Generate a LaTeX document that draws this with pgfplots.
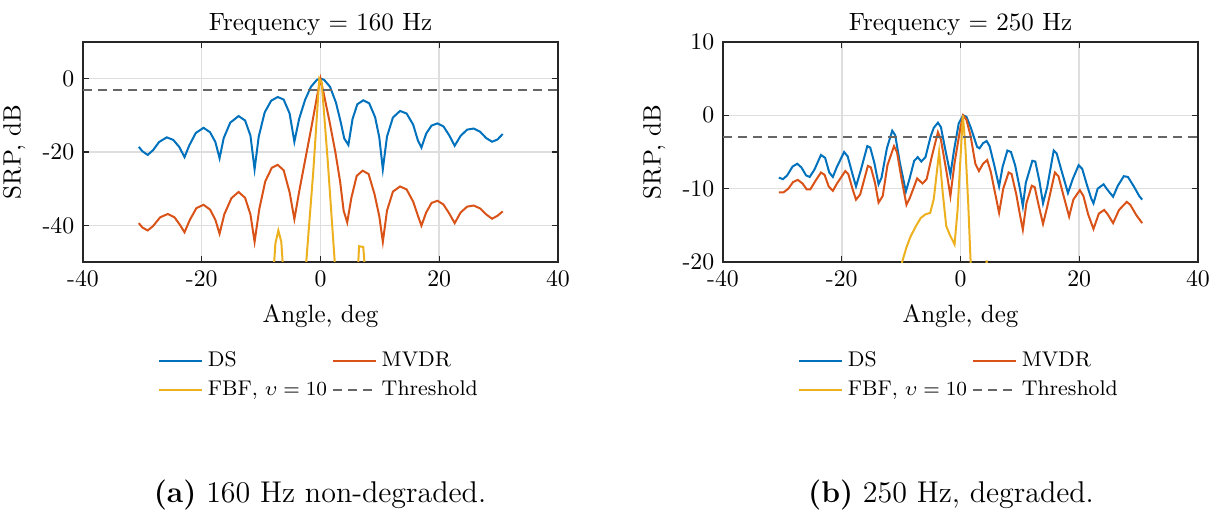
\documentclass[border=0pt]{standalone}
\usepackage{pgfplots}
\pgfplotsset{compat=1.18}
\definecolor{c1}{rgb}{0,0.447,0.741}
\definecolor{c2}{rgb}{0.850,0.325,0.098}
\definecolor{c3}{rgb}{0.929,0.694,0.125}
\definecolor{thr}{rgb}{0.4,0.4,0.4}
\pgfplotsset{
 myax/.style={
  scale only axis, width=190pt, height=88pt,
  xmin=-40, xmax=40, xtick={-40,-20,0,20,40}, xticklabels={-40,-20,0,20,40},
  grid=major, major grid style={black!13, line width=0.6pt},
  axis line style={black!85, line width=0.6pt},
  major tick length=2.5pt, tick style={black!85,line width=0.5pt},
  tick label style={font=\fontsize{9.5}{11}\selectfont},
  label style={font=\fontsize{10}{12}\selectfont},
  xlabel={Angle, deg}, ylabel={SRP, dB},
  legend style={draw=none, fill=none, at={(0.5,-0.36)}, anchor=north, legend columns=2,
    font=\fontsize{8.5}{10}\selectfont,
    /tikz/every even column/.append style={column sep=0pt}},
  legend cell align=left,
  every axis plot/.append style={line width=0.8pt},
 }
}
\begin{document}
\begin{tikzpicture}
\path[use as bounding box] (0,0) rectangle (486.8pt,206pt);
\begin{axis}[myax, name=L, at={(33.2pt,101.2pt)}, anchor=south west,
  ymin=-50, ymax=10, ytick={-40,-20,0}, yticklabels={-40,-20,0}]
\addplot[c1] coordinates {(-30.6,-18.6) (-30,-19.8) (-29.1,-20.8) (-28.2,-19.5) (-27.2,-17.3) (-25.9,-16.0) (-24.8,-16.7) (-23.8,-18.6) (-22.9,-21.4) (-22.1,-18.2) (-21,-14.8) (-19.7,-13.4) (-18.6,-14.6) (-17.7,-17.3) (-17.0,-21.7) (-16.3,-16.2) (-15.2,-12.0) (-13.8,-10.2) (-12.7,-11.4) (-11.8,-15.5) (-11.1,-24.7) (-10.4,-15.8) (-9.4,-9.2) (-8.3,-6.0) (-7.2,-5.0) (-6.2,-5.7) (-5.2,-9.5) (-4.4,-17.2) (-3.6,-11.0) (-2.6,-5.8) (-1.6,-2.2) (-0.6,-0.3) (0,0) (0.6,-0.3) (1.6,-2.2) (2.6,-6.5) (3.4,-11.8) (4.0,-16.3) (4.7,-18.1) (5.4,-11.0) (6.2,-7.0) (7.2,-5.9) (8.2,-6.7) (9.2,-10.5) (9.9,-16.0) (10.5,-24.7) (11.2,-15.8) (12.2,-10.6) (13.4,-8.8) (14.5,-9.5) (15.6,-12.5) (16.4,-16.8) (17.0,-18.8) (17.8,-15.0) (18.7,-12.8) (19.7,-12.2) (20.7,-13.0) (21.7,-15.5) (22.6,-18.3) (23.6,-15.6) (24.7,-13.9) (25.8,-13.6) (26.9,-14.5) (27.9,-16.2) (28.9,-17.2) (29.8,-16.6) (30.7,-15.1)};
\addlegendentry{DS}
\addplot[c2] coordinates {(-30.6,-39.4) (-30,-40.6) (-29.1,-41.4) (-28.2,-40.2) (-27.0,-37.8) (-25.7,-36.9) (-24.6,-37.8) (-23.7,-39.8) (-22.9,-41.9) (-22.0,-38.5) (-20.9,-35.3) (-19.7,-34.4) (-18.6,-35.7) (-17.7,-38.5) (-17.0,-42.3) (-16.2,-37.0) (-15.0,-32.6) (-13.8,-30.9) (-12.7,-32.5) (-11.8,-37.0) (-11.1,-44.5) (-10.3,-35.5) (-9.3,-28.0) (-8.2,-24.3) (-7.2,-23.5) (-6.2,-25.0) (-5.2,-31.0) (-4.4,-38.3) (-3.5,-30.0) (-2.5,-21.5) (-1.5,-13.0) (-0.6,-5.0) (0,0) (0.6,-4.5) (1.5,-11.5) (2.5,-20.0) (3.3,-28.0) (3.9,-36.0) (4.5,-39.2) (5.2,-32.5) (6.1,-26.5) (7.1,-25.1) (8.1,-26.0) (9.1,-31.5) (9.9,-37.5) (10.5,-44.5) (11.2,-36.0) (12.2,-30.8) (13.4,-29.4) (14.5,-30.2) (15.6,-33.5) (16.5,-37.8) (17.0,-40.1) (17.8,-36.5) (18.7,-33.9) (19.7,-33.3) (20.7,-34.3) (21.7,-36.8) (22.6,-39.4) (23.6,-36.5) (24.7,-34.9) (25.8,-34.6) (26.9,-35.4) (27.9,-37.0) (28.9,-38.2) (29.8,-37.4) (30.7,-36.2)};
\addlegendentry{MVDR}
\addplot[c3] coordinates {(-9.0,-80) (-8.0,-55) (-7.6,-45) (-7.1,-41.4) (-6.6,-44.5) (-6.3,-52) (-5.5,-80) (-3.2,-80) (-2.4,-50) (-1.2,-25) (-0.2,0) (0.2,-1) (1.2,-22) (2.4,-50) (3.2,-80) (5.8,-80) (6.3,-52) (6.5,-45.7) (7.2,-45.9) (7.5,-52) (8.3,-80)};
\addlegendentry{FBF, $\upsilon=10$}
\addplot[thr, dash pattern=on 3.5pt off 2.5pt, line width=0.7pt] coordinates {(-40,-3) (40,-3)};
\addlegendentry{Threshold}
\end{axis}
\begin{axis}[myax, name=R, at={(289.2pt,101.2pt)}, anchor=south west,
  ymin=-20, ymax=10, ytick={-20,-10,0,10}, yticklabels={-20,-10,0,10}]
\addplot[c1] coordinates {(-30.6,-8.5) (-29.9,-8.7) (-29.2,-8.2) (-28.3,-7.0) (-27.5,-6.6) (-26.8,-7.1) (-26.0,-8.2) (-25.4,-8.4) (-24.6,-7.4) (-23.5,-5.4) (-22.8,-5.8) (-22.1,-7.8) (-21.5,-8.4) (-20.8,-7.0) (-19.6,-5.0) (-19.0,-5.6) (-18.2,-8.0) (-17.6,-9.7) (-16.8,-7.5) (-15.7,-4.2) (-15.2,-4.4) (-14.5,-6.5) (-13.8,-9.4) (-13.3,-8.5) (-12.4,-4.5) (-11.5,-2.1) (-11.0,-2.7) (-10.2,-6.5) (-9.2,-10.4) (-8.6,-8.7) (-7.8,-6.2) (-7.2,-5.7) (-6.6,-6.3) (-5.9,-5.7) (-5.0,-2.8) (-4.5,-1.7) (-3.8,-1.0) (-3.3,-1.6) (-2.6,-4.5) (-1.7,-8.1) (-1.1,-4.8) (-0.3,-1.1) (0.45,0) (1.0,-0.2) (1.7,-1.6) (2.8,-4.3) (3.2,-4.5) (3.8,-3.8) (4.4,-3.5) (4.9,-4.2) (5.6,-6.5) (6.5,-9.7) (7.1,-7.0) (7.9,-4.8) (8.5,-5.0) (9.2,-6.8) (10.0,-10.0) (10.5,-12.4) (11.0,-9.2) (12.1,-6.2) (12.6,-6.3) (13.3,-9.0) (13.9,-12.0) (14.6,-9.8) (15.7,-4.8) (16.2,-5.2) (17.0,-7.5) (18.1,-10.6) (18.9,-8.7) (19.9,-6.8) (20.5,-7.3) (21.3,-9.5) (22.0,-11.3) (22.4,-12.0) (23.1,-10.0) (24.1,-9.4) (24.7,-10.1) (25.7,-11.1) (26.5,-9.6) (27.5,-8.3) (28.2,-8.4) (29.2,-9.7) (30.1,-11.0) (30.6,-11.5)};
\addlegendentry{DS}
\addplot[c2] coordinates {(-30.6,-10.5) (-29.8,-10.5) (-29.0,-10.0) (-28.2,-9.1) (-27.4,-8.8) (-26.6,-9.3) (-25.9,-10.1) (-25.3,-10.1) (-24.4,-8.9) (-23.5,-7.8) (-22.9,-8.1) (-22.2,-9.7) (-21.5,-10.3) (-20.8,-9.3) (-19.4,-7.6) (-18.9,-8.0) (-18.2,-10.0) (-17.6,-11.5) (-16.9,-10.8) (-15.6,-6.9) (-15.1,-7.1) (-14.4,-9.2) (-13.8,-11.9) (-13.1,-11.0) (-12.3,-6.8) (-11.2,-4.2) (-10.7,-5.0) (-9.9,-8.8) (-9.1,-12.2) (-8.5,-11.2) (-7.3,-8.6) (-6.4,-9.3) (-5.7,-8.7) (-4.8,-5.5) (-3.8,-2.3) (-3.3,-3.3) (-2.4,-7.5) (-1.7,-11.0) (-1.0,-6.5) (0.0,-1.6) (0.45,0) (1.0,-0.6) (1.7,-2.8) (2.5,-6.6) (3.1,-7.6) (3.8,-6.6) (4.5,-6.1) (5.1,-7.7) (5.8,-10.5) (6.5,-13.3) (7.2,-10.0) (8.1,-7.8) (8.6,-8.0) (9.4,-10.8) (10.0,-13.5) (10.5,-15.6) (11.1,-12.0) (12.0,-9.6) (12.5,-9.8) (13.2,-12.4) (13.9,-14.8) (14.6,-12.5) (15.9,-7.8) (16.5,-8.3) (17.3,-10.8) (18.3,-13.8) (19.0,-11.5) (20.1,-10.2) (20.7,-11.0) (21.5,-13.5) (22.4,-15.5) (23.3,-13.4) (24.2,-12.9) (24.8,-13.5) (25.7,-14.7) (26.7,-12.9) (28.0,-11.8) (28.6,-12.2) (29.6,-13.6) (30.6,-14.7)};
\addlegendentry{MVDR}
\addplot[c3] coordinates {(-10.6,-23) (-9.8,-19.9) (-9.1,-18.0) (-8.4,-16.5) (-7.5,-15.1) (-6.7,-14.0) (-5.9,-13.5) (-5.1,-13.3) (-4.5,-11.4) (-3.6,-5.0) (-3.0,-10.5) (-2.4,-15.1) (-1.8,-16.3) (-1.0,-17.6) (-0.5,-13.0) (0.4,0) (0.8,-4) (1.3,-12.0) (1.7,-19.9) (2.1,-28) (3.9,-28) (4.3,-21) (4.4,-19.8) (4.5,-21) (4.9,-28)};
\addlegendentry{FBF, $\upsilon=10$}
\addplot[thr, dash pattern=on 3.5pt off 2.5pt, line width=0.7pt] coordinates {(-40,-3) (40,-3)};
\addlegendentry{Threshold}
\end{axis}
\node[anchor=base, font=\fontsize{10}{12}\selectfont, inner sep=0pt, yshift=4.5pt] at (L.north) {Frequency $=$ 160 Hz};
\node[anchor=base, font=\fontsize{10}{12}\selectfont, inner sep=0pt, yshift=4.5pt] at (R.north) {Frequency $=$ 250 Hz};
\node[font=\fontsize{12}{14}\selectfont] at (128pt,8pt) {\textbf{(a)} 160 Hz non-degraded.};
\node[font=\fontsize{12}{14}\selectfont] at (380.4pt,8pt) {\textbf{(b)} 250 Hz, degraded.};
\end{tikzpicture}
\end{document}
